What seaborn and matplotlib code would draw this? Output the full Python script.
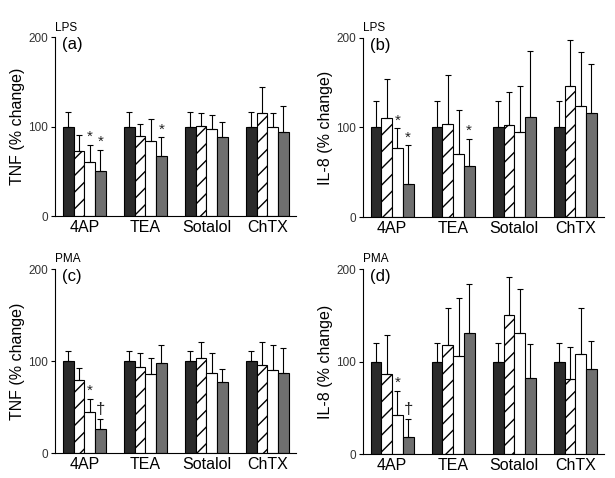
import numpy as np
import pandas as pd
import seaborn as sns
import matplotlib
matplotlib.use('Agg')
import matplotlib.pyplot as plt

drugs = ['4AP', 'TEA', 'Sotalol', 'ChTX']
doses = ['control', 'dose 1', 'dose 2', 'dose 3']

# mean values, one row per drug, one column per dose
tnf_lps = [[100, 73, 60, 50], [100, 90, 83.5, 67], [100, 101, 97, 88], [100, 115.5, 100, 94.5]]
tnf_lps_top = [[116, 90.5, 80, 74], [116, 103.5, 109, 88], [116, 115.5, 112.5, 105], [116, 144, 115.5, 123]]
il8_lps = [[100, 111, 77, 37], [100, 104, 70, 57], [100, 102.5, 94.5, 112], [100, 146, 124, 116]]
il8_lps_top = [[129, 154, 99, 80], [129, 158, 119, 87], [129, 139, 146, 185.5], [129, 197, 184, 171]]
tnf_pma = [[100, 79, 45, 26.5], [100, 94, 86, 98.5], [100, 103.5, 87, 77.5], [100, 96, 90.5, 87]]
tnf_pma_top = [[111, 93, 59, 37], [111, 109, 103.5, 117], [111, 121, 109, 91], [111, 121, 118, 114.5]]
il8_pma = [[100, 86.5, 42, 18], [100, 117.5, 106, 131], [100, 150, 131, 82], [100, 81, 108, 92]]
il8_pma_top = [[120.5, 128.5, 68, 38], [120.5, 157.5, 168.5, 184], [120.5, 191, 178, 118.5], [120.5, 115.5, 157.5, 122]]

# significance marks: (drug index, dose index, symbol)
marks_a = [(0, 2, '*'), (0, 3, '*'), (1, 3, '*')]
marks_b = [(0, 2, '*'), (0, 3, '*'), (1, 3, '*')]
marks_c = [(0, 2, '*'), (0, 3, '\u2020')]
marks_d = [(0, 2, '*'), (0, 3, '\u2020')]

plt.rcParams['font.family'] = ['Liberation Sans', 'DejaVu Sans']
colors = ['#2b2b2b', 'white', 'white', '#6f6f6f']

fig = plt.figure(figsize=(6.15, 4.78), dpi=100)


def panel(rect, means, tops, marks, ylabel, stim, tag):
    ax = fig.add_axes(rect)
    df = pd.DataFrame([(d, s, means[i][j]) for i, d in enumerate(drugs) for j, s in enumerate(doses)],
                      columns=['drug', 'dose', 'value'])
    sns.barplot(data=df, x='drug', y='value', hue='dose', order=drugs, hue_order=doses,
                palette=colors, width=0.7, errorbar=None, edgecolor='black', linewidth=0.8,
                saturation=1, legend=False, ax=ax)
    bar_groups = list(ax.containers)
    for j, cont in enumerate(bar_groups):
        xs = []
        for bar in cont:
            if j == 1:
                bar.set_hatch('//')
            xs.append(bar.get_x() + bar.get_width() / 2)
        m = np.array([means[i][j] for i in range(4)])
        t = np.array([tops[i][j] for i in range(4)])
        ax.errorbar(xs, m, yerr=[np.zeros(4), t - m], fmt='none', ecolor='black',
                    elinewidth=0.8, capsize=2.2, capthick=0.8, zorder=1)
        for i, jj, sym in marks:
            if jj == j:
                if sym == '*':
                    ax.text(xs[i], tops[i][j] + 1, sym, ha='center', va='bottom',
                            fontsize=11, color='#222222')
                else:
                    ax.text(xs[i], tops[i][j] + 2, sym, ha='center', va='bottom',
                            fontsize=12, color='#222222')
    ax.set_ylim(0, 200)
    ax.set_xlim(-0.48, 3.47)
    ax.set_yticks([0, 100, 200])
    ax.tick_params(axis='y', labelsize=8.5, labelcolor='#333333', length=3, width=0.8, pad=2)
    ax.tick_params(axis='x', labelsize=11.5, length=0, pad=3)
    ax.set_xlabel('')
    ax.set_ylabel(ylabel, fontsize=11.5, labelpad=2)
    sns.despine(ax=ax)
    for s in ['left', 'bottom']:
        ax.spines[s].set_linewidth(0.8)
    ax.text(0.0, 1.02, stim, transform=ax.transAxes, fontsize=8.5, ha='left', va='bottom')
    ax.text(0.03, 1.0, tag, transform=ax.transAxes, fontsize=12, ha='left', va='top')
    return ax


panel([0.0894, 0.548, 0.392, 0.374], tnf_lps, tnf_lps_top, marks_a, 'TNF (% change)', 'LPS', '(a)')
panel([0.590, 0.546, 0.392, 0.375], il8_lps, il8_lps_top, marks_b, 'IL-8 (% change)', 'LPS', '(b)')
panel([0.0894, 0.052, 0.392, 0.385], tnf_pma, tnf_pma_top, marks_c, 'TNF (% change)', 'PMA', '(c)')
panel([0.590, 0.050, 0.392, 0.387], il8_pma, il8_pma_top, marks_d, 'IL-8 (% change)', 'PMA', '(d)')

fig.savefig('out.png', dpi=100)
